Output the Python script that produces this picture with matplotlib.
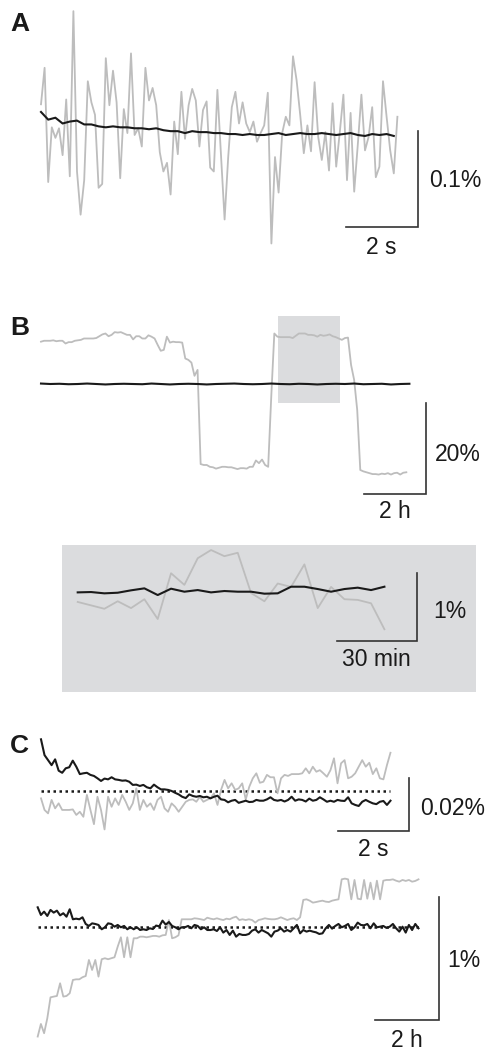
import numpy as np
import matplotlib
matplotlib.use("Agg")
import matplotlib.pyplot as plt
from matplotlib.patches import Rectangle

W, H = 489, 1052
GRAY = "#bdbdbd"
BLACK = "#1a1a1a"
BAR = "#333333"
FS = 16.5

plt.rcParams["font.family"] = ["Liberation Sans", "DejaVu Sans"]

# ---- data (values in %) ----
# panel A, 10 Hz, values read in units of 0.001 %
a_gray = np.array([
    32, 70, -49, 8, -3, 7, -21, 37, -43, 129,
    -38, -83, -47, 56, 34, 21, -55, -51, 80, 31,
    67, 34, -45, 27, 2, 85, 0, 7, -12, 70,
    36, 49, 31, -18, -38, -29, -62, 14, -20, 45,
    -4, 31, 48, 36, -12, 26, 35, -34, -38, 47,
    -21, -88, -23, 29, 45, 12, 34, 12, 3, 14,
    -7, 2, 10, 44, -113, -23, -60, 2, 19, 10,
    82, 57, 21, -19, 10, -17, 55, -2, -26, 3,
    -37, 33, -33, 3, 42, -47, 23, -59, -10, 42,
    -16, -2, 29, -44, -33, 56, 19, -16, -40, 19]) * 1e-3
a_black = np.array([
    24, 16, 18, 12, 14, 15, 11, 11, 9, 8,
    9, 8, 8, 7, 7, 6, 7, 5, 4, 4,
    2, 4, 3, 3, 2, 2, 1, 1, 0, 1,
    0, 0, 1, 2, 0, 1, 2, 1, 1, 2,
    1, 0, 1, 2, 0, -1, 1, 0, 1, -1]) * 1e-3

# panel B, 6 min samples
b_gray = np.array([
    9.3, 9.5, 9.5, 9.5, 9.6, 9.4, 9.5, 9.5, 8.9, 9.2,
    9.2, 9.5, 9.6, 9.7, 10.0, 10.0, 10.0, 10.0, 10.1, 10.5,
    10.9, 11.1, 10.5, 10.8, 11.4, 11.3, 11.4, 11.1, 10.8, 10.8,
    9.8, 10.5, 10.5, 10.0, 10.0, 10.7, 10.4, 10.0, 8.6, 7.3,
    7.5, 10.4, 9.1, 9.3, 9.2, 9.2, 9.1, 5.6, 5.3, 4.7,
    1.8, 3.1, -17.6, -17.8, -17.8, -18.2, -18.3, -18.6, -18.4, -18.2,
    -18.2, -18.3, -18.3, -18.5, -18.7, -18.5, -18.5, -18.6, -18.2, -18.2,
    -16.8, -17.4, -16.6, -17.8, -18.2, -2.8, 11.1, 10.4, 10.3, 10.3,
    10.3, 10.3, 10.1, 10.6, 11.1, 11.1, 11.1, 10.8, 10.8, 10.7,
    10.4, 10.8, 10.6, 10.7, 10.9, 10.5, 10.3, 10.0, 9.7, 10.1,
    10.2, 4.2, 0.9, -5.7, -18.9, -19.2, -19.4, -19.6, -19.8, -19.8,
    -19.9, -19.7, -19.8, -19.6, -19.9, -19.6, -19.5, -19.9, -19.5, -19.4])
b_black = np.array([
    0.1, 0.0, 0.05, -0.05, 0.0, 0.1, 0.0, -0.1, 0.0, 0.05,
    0.0, -0.05, 0.1, 0.0, -0.1, 0.0, 0.05, 0.0, -0.1, 0.0,
    0.05, 0.1, 0.0, -0.05, 0.0, 0.1, 0.0, -0.05, 0.05, 0.0,
    -0.1, 0.0, 0.05, 0.0, 0.1, -0.05, 0.0, 0.05, -0.1, 0.0, 0.05])
b_window = (7.73, 9.74)          # hours shown in the inset
b_window_y = (-4.1, 14.9)

# inset of B, 5 min samples
ins_gray = np.array([
    -0.15, -0.20, -0.25, -0.14, -0.24, -0.11, -0.40, 0.27, 0.10, 0.49,
    0.61, 0.52, 0.57, -0.02, -0.14, 0.12, 0.07, 0.40, -0.24, 0.07,
    -0.11, -0.12, -0.17, -0.55])
ins_black = np.array([
    -0.010, -0.005, -0.024, -0.015, 0.020, 0.049, -0.049, 0.044, 0.0, 0.024,
    -0.010, 0.010, 0.0, 0.0, -0.029, -0.024, 0.073, 0.073, 0.039, 0.0,
    0.039, 0.059, 0.024, 0.073])

# panel C top, 10 Hz, units of 0.0001 %
c1_gray = np.array([
    -29, -73, -86, -35, -67, -48, -73, -73, -73, -71,
    -92, -80, -99, -16, -73, -127, -23, -73, -147, -23,
    -61, -29, -54, -16, -42, -73, -48, 9, -73, -35,
    -61, -48, -73, -35, -23, -67, -80, -48, -61, -80,
    -61, -42, -35, -33, -42, -23, -42, -35, -29, -10,
    -54, 3, 41, 9, 28, 3, 9, 28, -33, 15,
    47, 66, 30, 34, 60, 51, 51, -10, 47, 60,
    56, 63, 63, 63, 66, 85, 66, 91, 72, 78,
    66, 53, 78, 123, 28, 104, 116, 47, 53, 66,
    91, 116, 91, 106, 63, 85, 47, 43, 97, 144]) * 1e-4
c1_black = np.array([
    195, 135, 116, 97, 119, 76, 68, 85, 89, 114,
    91, 63, 66, 68, 60, 56, 47, 37, 46, 43,
    51, 43, 41, 38, 39, 34, 22, 23, 18, 22,
    13, 9, 23, 13, 5, 5, 3, -1, -8, -14,
    -23, -28, -14, -20, -23, -20, -25, -23, -29, -23,
    -19, -33, -35, -44, -38, -35, -46, -42, -38, -43,
    -42, -35, -38, -38, -33, -25, -35, -38, -35, -41,
    -35, -23, -38, -33, -35, -41, -30, -38, -35, -25,
    -33, -42, -38, -42, -35, -38, -39, -25, -48, -54,
    -58, -42, -35, -42, -48, -51, -42, -39, -54, -38]) * 1e-4

# panel C bottom, 6 min samples, units of 0.01 %
c2_gray = np.array([
    -88.6, -78.4, -85.9, -73.8, -56.8, -56.2, -55.7, -45.4, -56.2, -55.7,
    -53.5, -42.7, -42.2, -42.2, -40.5, -39.5, -26.5, -34.6, -26.5, -40.0,
    -25.9, -25.1, -25.9, -25.1, -24.3, -15.7, -8.1, -24.3, -8.1, -24.3,
    -8.9, -8.9, -7.6, -7.6, -8.1, -7.6, -7.0, -7.0, -7.6, -6.5,
    -6.2, 5.9, -8.9, -8.1, -6.5, 6.5, 6.5, 6.5, 6.5, 7.3,
    7.0, 6.5, 5.9, 7.8, 7.0, 6.5, 7.3, 6.5, 5.9, 7.0,
    6.5, 7.8, 8.6, 5.9, 6.5, 5.9, 6.5, 5.9, 3.8, 5.9,
    6.5, 7.3, 6.8, 6.5, 6.5, 7.0, 8.1, 7.0, 5.9, 6.8,
    7.3, 5.9, 8.1, 22.2, 22.7, 21.6, 20.0, 20.5, 21.1, 21.6,
    20.8, 20.5, 21.6, 22.2, 22.7, 38.9, 39.5, 38.9, 22.7, 38.4,
    23.2, 22.7, 38.4, 23.2, 36.2, 22.7, 37.8, 22.7, 37.8, 38.4,
    38.4, 38.9, 37.8, 37.0, 38.4, 37.6, 38.4, 37.0, 37.6, 38.9]) * 1e-2
c2_black = np.array([
    16.2, 10.0, 12.7, 9.2, 14.1, 11.9, 13.5, 9.7, 11.4, 8.6,
    14.6, 6.5, 7.0, 6.5, 8.1, 2.7, 1.1, 3.2, 2.7, 1.9,
    -1.6, 0.0, 3.2, 2.7, 0.5, 1.9, 0.0, 1.1, -1.6, 0.0,
    -1.6, 0.0, -2.2, -1.6, -2.2, -0.8, -1.4, 1.4, 0.8, 5.4,
    2.2, 4.3, 1.1, 0.0, -1.6, 0.0, 0.0, 1.1, -0.8, 1.9,
    1.1, -1.6, 0.0, -2.2, -2.2, -1.6, -3.0, 0.0, -4.3, -2.2,
    -6.2, -2.7, -7.6, -5.4, -6.2, -6.2, -5.4, -2.7, -1.6, -4.3,
    -2.2, -3.5, -4.9, -7.6, -3.5, -2.7, -0.8, -3.5, -2.2, -3.5,
    -0.8, 1.9, -4.9, -2.2, -3.5, -2.7, -3.5, -4.1, -5.4, -4.9,
    -0.8, 1.9, -1.1, 1.1, 2.7, 0.0, 1.1, 2.7, -2.2, 0.0,
    3.8, 1.9, 1.6, 2.7, -0.8, 3.2, 0.0, 0.5, 1.1, -0.5,
    0.5, 2.7, -0.8, -3.5, 0.5, -4.3, 1.9, -2.2, 2.7, -0.8]) * 1e-2

fig = plt.figure(figsize=(W / 100, H / 100), dpi=100)


def add_panel(rect, origin, scale, facecolor=None):
    # rect/origin in pixels (top-left based), scale = pixels per data unit
    left, top, width, height = rect
    x0, y0 = origin
    sx, sy = scale
    ax = fig.add_axes([left / W, 1 - (top + height) / H, width / W, height / H])
    ax.set_xlim((left - x0) / sx, (left + width - x0) / sx)
    ax.set_ylim((y0 - top - height) / sy, (y0 - top) / sy)
    if facecolor is None:
        ax.axis("off")
    else:
        ax.set_facecolor(facecolor)
        for s in ax.spines.values():
            s.set_visible(False)
        ax.set_xticks([])
        ax.set_yticks([])
    return ax


def scale_bar(ax, x, y, dx, dy, xlab, ylab, ylab_off, xlab_off):
    # (x, y) is the corner; offsets in pixels, y downward
    ax.plot([x - dx, x, x], [y, y, y + dy], color=BAR, lw=1.2,
            solid_joinstyle="miter", clip_on=False)
    ax.annotate(ylab, (x, y + dy / 2), xytext=(ylab_off[0] * 0.72, -ylab_off[1] * 0.72),
                textcoords="offset points", ha="left", va="baseline",
                fontsize=FS, color=BLACK)
    ax.annotate(xlab, (x - dx / 2, y), xytext=(xlab_off[0] * 0.72, -xlab_off[1] * 0.72),
                textcoords="offset points", ha="center", va="baseline",
                fontsize=FS, color=BLACK)


def trace(ax, t, y, color, lw):
    ax.plot(t, y, color=color, lw=lw, solid_joinstyle="round", clip_on=False)


# A
axA = add_panel((0, 0, W, 265), (41, 135), (36, 960))
trace(axA, np.arange(len(a_gray)) * 0.1, a_gray, GRAY, 1.3)
trace(axA, np.arange(len(a_black)) * 0.2, a_black, BLACK, 1.5)
scale_bar(axA, 10.47, -0.096, 2, 0.1, "2 s", "0.1%", (11, 8), (-1, 27))

# B
axB = add_panel((0, 265, W, 260), (41, 384), (30.7, 4.55))
axB.add_patch(Rectangle((b_window[0], b_window_y[0]), b_window[1] - b_window[0],
                        b_window_y[1] - b_window_y[0], facecolor="#dbdcde",
                        edgecolor="none", zorder=0))
trace(axB, np.arange(len(b_gray)) * 0.1, b_gray, GRAY, 1.3)
trace(axB, np.arange(len(b_black)) * 0.3, b_black, BLACK, 1.5)
scale_bar(axB, 12.53, -24.24, 2, 20, "2 h", "20%", (9, 12), (0, 24))

# inset
axI = add_panel((61.7, 545, 414.3, 146.7), (77.7, 591.7), (2.667, 68.3),
                facecolor="#dbdcde")
trace(axI, np.arange(len(ins_gray)) * 5, ins_gray, GRAY, 1.3)
trace(axI, np.arange(len(ins_black)) * 5, ins_black, BLACK, 1.5)
scale_bar(axI, 127.1, -0.722, 30, 1, "30 min", "1%", (16.5, 11.5), (0, 25))

# C top
axC1 = add_panel((0, 700, W, 170), (41, 790.7), (35.3, 2635))
t1 = np.arange(len(c1_gray)) * 0.1
axC1.plot([t1[0], t1[-1]], [0, 0], color=BLACK, lw=1.8, dashes=(1, 1.4))
trace(axC1, t1, c1_gray, GRAY, 1.3)
trace(axC1, t1, c1_black, BLACK, 1.5)
scale_bar(axC1, 10.42, -0.0153, 2, 0.02, "2 s", "0.02%", (11, 10), (0, 25))

# C bottom
axC2 = add_panel((0, 870, W, 182), (37.7, 927.3), (32, 123.3))
t2 = np.arange(len(c2_gray)) * 0.1
axC2.plot([t2[0], t2[-1] + 0.1], [0, 0], color=BLACK, lw=1.8, dashes=(1, 1.4))
trace(axC2, t2, c2_gray, GRAY, 1.3)
trace(axC2, t2, c2_black, BLACK, 1.5)
scale_bar(axC2, 12.54, -0.752, 2, 1, "2 h", "1%", (8, 9), (0, 27))

# panel letters
for letter, base in (("A", 31), ("B", 335), ("C", 753)):
    fig.text(10 / W, 1 - base / H, letter, fontsize=19, fontweight="bold",
             va="baseline", ha="left", color=BLACK)

fig.savefig("out.png", dpi=100)
